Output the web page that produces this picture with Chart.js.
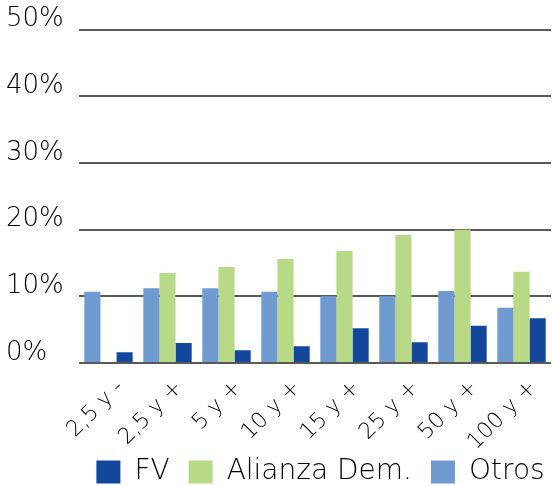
<!DOCTYPE html>
<html>
<head>
<meta charset="utf-8">
<script src="https://cdn.jsdelivr.net/npm/chart.js@4/dist/chart.umd.min.js"></script>
<style>
html,body{margin:0;padding:0;background:#fff;}
#wrap{width:553px;height:486px;position:relative;}
</style>
</head>
<body>
<div id="wrap"><canvas id="c" width="553" height="486"></canvas></div>
<script>
const categories = ["2,5 y -", "2,5 y +", "5 y +", "10 y +", "15 y +", "25 y +", "50 y +", "100 y +"];
const otros   = [10.7, 11.2, 11.2, 10.7, 10.0, 10.0, 10.8, 8.3];
const alianza = [0,    13.5, 14.4, 15.6, 16.8, 19.2, 20.0, 13.7];
const fv      = [1.6,  3.0,  1.9,  2.5,  5.2,  3.1,  5.6,  6.7];
const seriesNames = ["Otros", "Alianza Dem.", "FV"];
const yTicks = [0, 10, 20, 30, 40, 50];

const FONT = "'DejaVu Sans', sans-serif";
const shiftLegend = {
  id: 'shiftLegend',
  afterLayout(chart) {
    const xs = chart.scales.x;
    xs.bottom = chart.height;
    const lg = chart.legend;
    const dy = 4, dx = 42;
    lg.top += dy; lg.bottom += dy;
    lg.left += dx; lg.right += dx;
  }
};
new Chart(document.getElementById('c'), {
  type: 'bar',
  data: {
    labels: categories,
    datasets: [
      {label: seriesNames[0], data: otros, backgroundColor: '#6F9BD1'},
      {label: seriesNames[1], data: alianza, backgroundColor: '#B8D986'},
      {label: seriesNames[2], data: fv, backgroundColor: '#13479C'}
    ]
  },
  plugins: [shiftLegend],
  options: {
    responsive: false,
    animation: false,
    devicePixelRatio: 1,
    layout: {padding: {left: 6, right: 2, top: 14, bottom: -6}},
    datasets: {bar: {categoryPercentage: 0.82, barPercentage: 1.0}},
    scales: {
      x: {
        grid: {display: false},
        border: {display: false},
        afterFit: (s) => { s.paddingLeft = 0; s.paddingRight = 0; s.height = 72; },
        ticks: {
          color: '#000', font: {family: FONT, size: 22, weight: 200},
          maxRotation: 45, minRotation: 45, padding: 4, labelOffset: 12
        }
      },
      y: {
        min: 0, max: 50,
        afterBuildTicks: (ax) => { ax.ticks = yTicks.map(v => ({value: v})); },
        afterFit: (s) => { s.width = 73; },
        grid: {color: '#5a5a5a', lineWidth: 2, drawTicks: false},
        border: {display: false},
        ticks: {
          color: '#000', font: {family: FONT, size: 26, weight: 200},
          callback: v => v + '%', crossAlign: 'far', padding: 14, labelOffset: -10
        }
      }
    },
    plugins: {
      tooltip: {enabled: false},
      legend: {
        position: 'bottom', reverse: true,
        labels: {
          color: '#000', font: {family: FONT, size: 28, weight: 200},
          boxWidth: 24, boxHeight: 23, padding: 19
        }
      }
    }
  }
});
</script>
</body>
</html>
